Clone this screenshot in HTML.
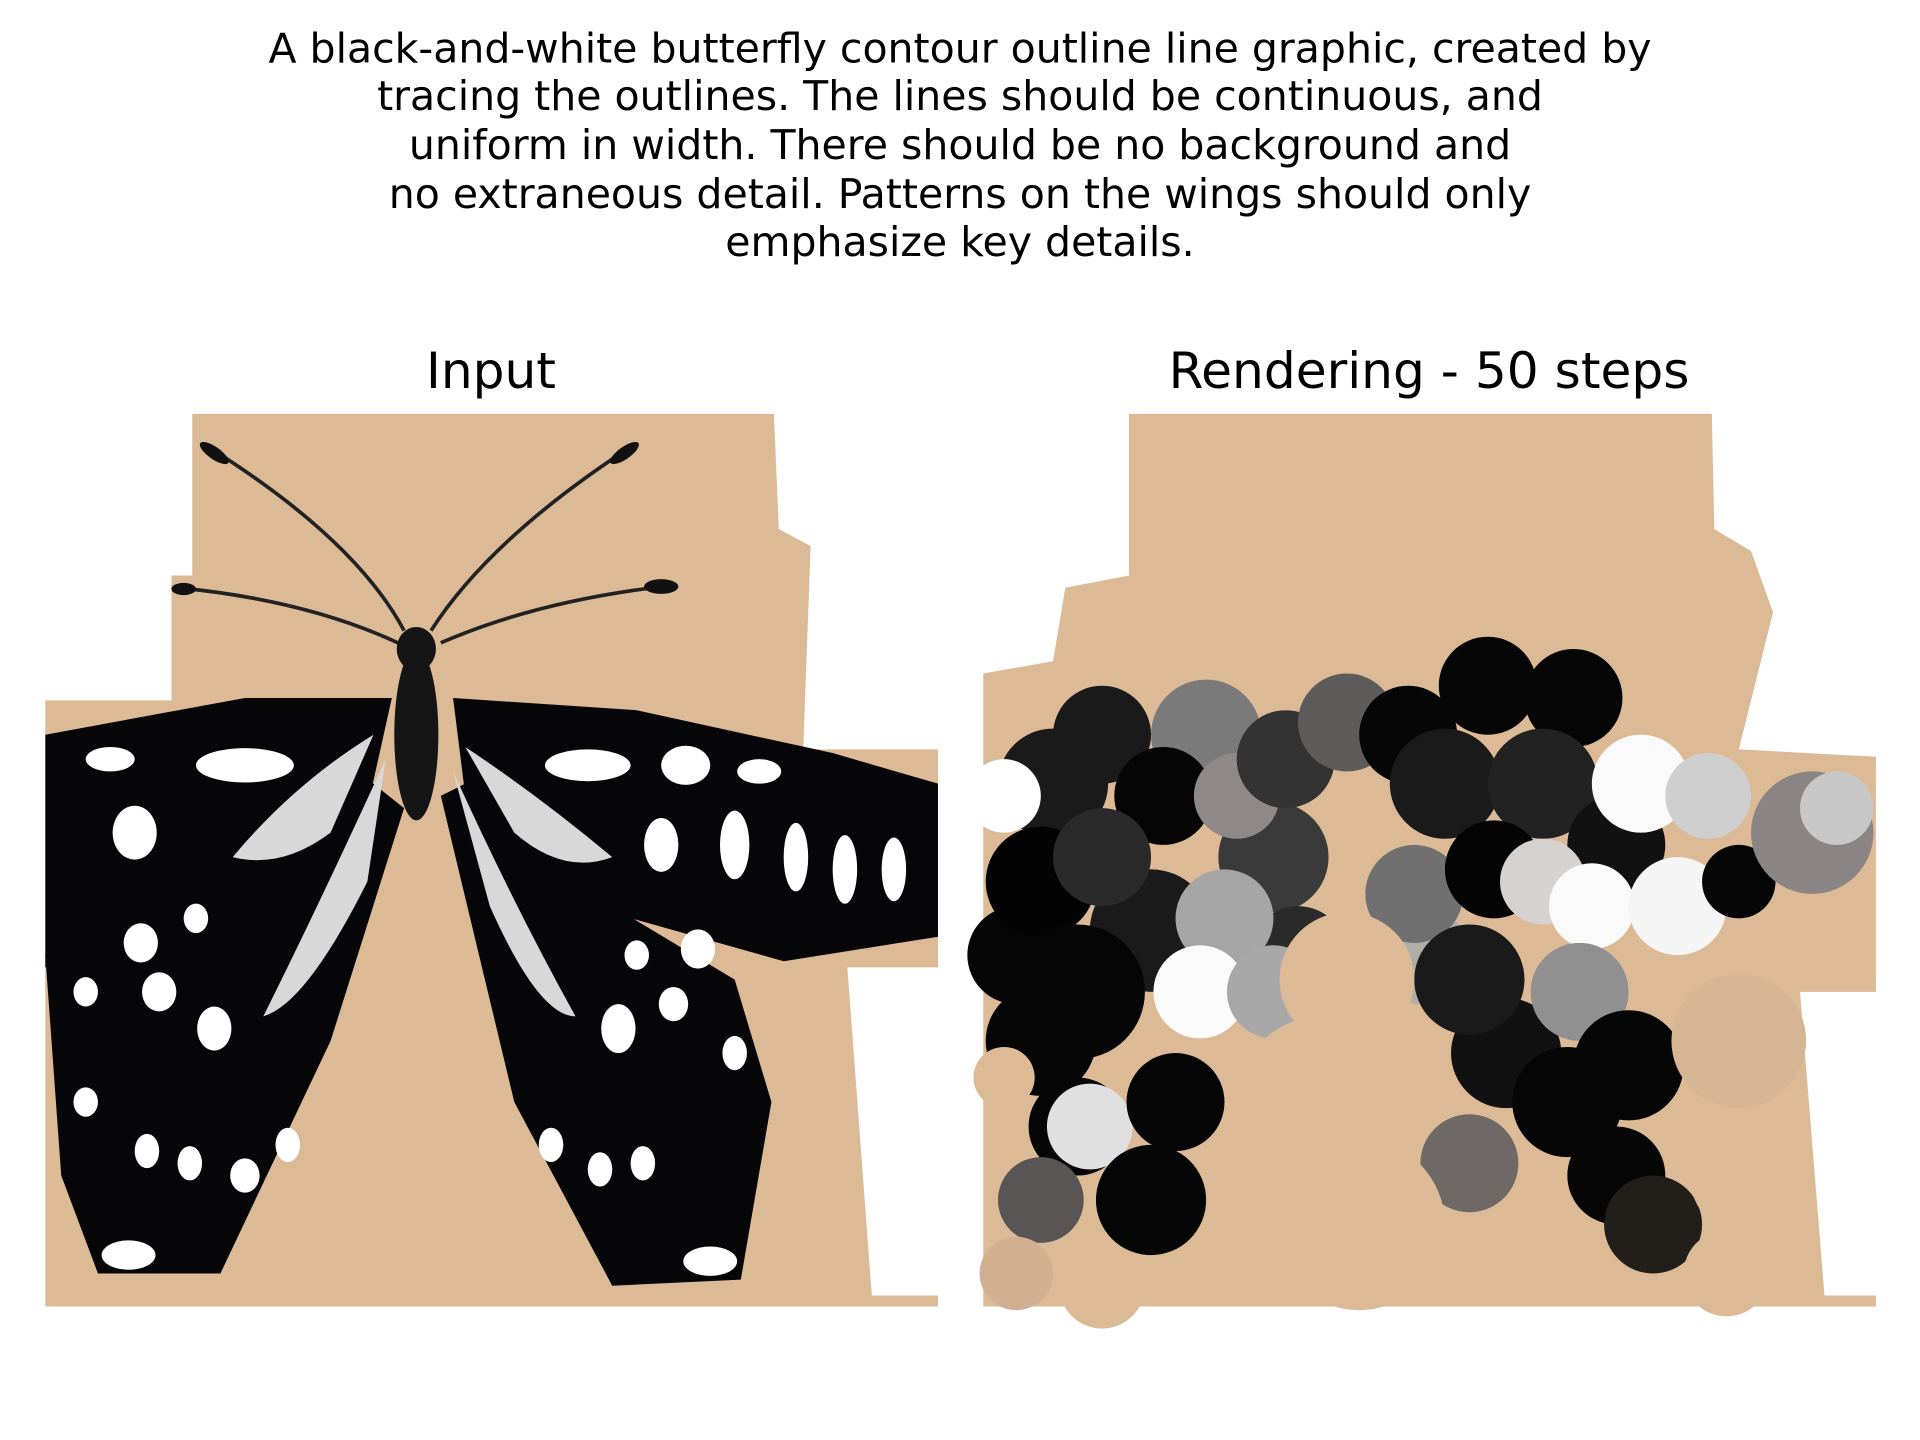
<!DOCTYPE html>
<html><head><meta charset="utf-8"><style>
html,body{margin:0;padding:0;background:#fff;width:1920px;height:1440px;overflow:hidden}
svg{display:block}
text{font-family:"DejaVu Sans","Liberation Sans",sans-serif;fill:#000}
</style></head><body>
<svg width="1920" height="1440" viewBox="0 0 1568 1176" xmlns="http://www.w3.org/2000/svg">
<g font-size="33.5" text-anchor="middle">
<text x="784" y="51">A black-and-white butterfly contour outline line graphic, created by</text>
<text x="784" y="90">tracing the outlines. The lines should be continuous, and</text>
<text x="784" y="130">uniform in width. There should be no background and</text>
<text x="784" y="170">no extraneous detail. Patterns on the wings should only</text>
<text x="784" y="209">emphasize key details.</text>
</g>
<text x="401" y="317" font-size="41" text-anchor="middle">Input</text>
<text x="1167" y="317" font-size="41" text-anchor="middle">Rendering - 50 steps</text>

<g>
<polygon fill="#dcba96" points="157,338 632,338 636,432 662,446 656,612 766,612 766,790 692,790 712,1058 766,1058 766,1067 37,1067 37,572 140,572 140,470 157,470"/>
<g stroke="#222" stroke-width="3" fill="none">
<path d="M330,515 Q290,440 170,365"/><path d="M352,515 Q400,440 515,365"/>
<path d="M325,525 Q250,490 145,480"/><path d="M360,525 Q440,490 550,478"/>
</g>
<ellipse cx="175" cy="370" rx="14" ry="5" fill="#111" transform="rotate(35 175 370)"/>
<ellipse cx="510" cy="370" rx="14" ry="5" fill="#111" transform="rotate(-35 510 370)"/>
<ellipse cx="150" cy="481" rx="10" ry="5" fill="#111"/><ellipse cx="540" cy="479" rx="14" ry="6" fill="#111"/>
<polygon fill="#060608" points="320,570 200,570 37,600 37,790 160,770 300,660"/>
<polygon fill="#060608" points="370,570 520,580 680,615 766,640 766,765 640,785 480,740 380,650"/>
<polygon fill="#060608" points="305,640 37,780 50,960 80,1040 180,1040 270,850 330,660"/>
<polygon fill="#060608" points="360,650 420,900 500,1050 605,1045 630,900 600,800 500,740 380,640"/>
<g fill="#d8d8d8">
<path d="M305,600 Q240,640 190,700 Q230,710 270,680 Z"/><path d="M315,620 Q260,740 215,830 Q250,820 300,720 Z"/>
<path d="M380,610 Q440,650 500,700 Q460,715 420,680 Z"/><path d="M370,630 Q420,740 470,830 Q440,830 400,740 Z"/>
</g>
<g fill="#fff">
<ellipse cx="200" cy="625" rx="40" ry="14"/><ellipse cx="90" cy="620" rx="20" ry="10"/><ellipse cx="110" cy="680" rx="18" ry="22"/>
<ellipse cx="115" cy="770" rx="14" ry="16"/><ellipse cx="160" cy="750" rx="10" ry="12"/><ellipse cx="130" cy="810" rx="14" ry="16"/>
<ellipse cx="175" cy="840" rx="14" ry="18"/><ellipse cx="70" cy="810" rx="10" ry="12"/><ellipse cx="70" cy="900" rx="10" ry="12"/>
<ellipse cx="120" cy="940" rx="10" ry="14"/><ellipse cx="155" cy="950" rx="10" ry="14"/><ellipse cx="235" cy="935" rx="10" ry="14"/>
<ellipse cx="200" cy="960" rx="12" ry="14"/><ellipse cx="105" cy="1025" rx="22" ry="12"/>
<ellipse cx="480" cy="625" rx="35" ry="13"/><ellipse cx="560" cy="625" rx="20" ry="16"/><ellipse cx="620" cy="630" rx="18" ry="10"/>
<ellipse cx="600" cy="690" rx="12" ry="28"/><ellipse cx="650" cy="700" rx="10" ry="28"/><ellipse cx="690" cy="710" rx="10" ry="28"/><ellipse cx="730" cy="710" rx="10" ry="26"/>
<ellipse cx="540" cy="690" rx="14" ry="22"/><ellipse cx="570" cy="775" rx="14" ry="16"/><ellipse cx="520" cy="780" rx="10" ry="12"/>
<ellipse cx="505" cy="840" rx="14" ry="20"/><ellipse cx="550" cy="820" rx="12" ry="14"/><ellipse cx="600" cy="860" rx="10" ry="14"/>
<ellipse cx="450" cy="935" rx="10" ry="14"/><ellipse cx="490" cy="955" rx="10" ry="14"/><ellipse cx="525" cy="950" rx="10" ry="14"/><ellipse cx="580" cy="1030" rx="22" ry="12"/>
</g>
<ellipse cx="340" cy="600" rx="18" ry="70" fill="#151515"/><ellipse cx="340" cy="530" rx="16" ry="18" fill="#151515"/>
</g>

<g>
<polygon fill="#dcba96" points="922,338 1398,338 1400,432 1430,450 1448,500 1420,612 1532,618 1532,810 1470,810 1490,1058 1532,1058 1532,1067 803,1067 803,550 860,540 870,480 922,470"/>
<g>
<circle cx="860" cy="640" r="45" fill="#1a1a1a"/><circle cx="830" cy="780" r="40" fill="#050505"/><circle cx="850" cy="850" r="45" fill="#050505"/>
<circle cx="940" cy="760" r="50" fill="#1a1a1a"/><circle cx="1040" cy="700" r="45" fill="#3a3a3a"/><circle cx="1060" cy="780" r="40" fill="#2a2a2a"/>
<circle cx="985" cy="600" r="45" fill="#7a7a7a"/><circle cx="900" cy="600" r="40" fill="#1a1a1a"/><circle cx="950" cy="650" r="40" fill="#050505"/>
<circle cx="1010" cy="650" r="35" fill="#8e8888"/><circle cx="850" cy="720" r="45" fill="#030303"/><circle cx="880" cy="810" r="55" fill="#050505"/>
<circle cx="820" cy="650" r="30" fill="#fff"/><circle cx="900" cy="700" r="40" fill="#2a2a2a"/><circle cx="1050" cy="620" r="40" fill="#333"/>
<circle cx="1100" cy="590" r="40" fill="#5e5b5b"/><circle cx="1150" cy="600" r="40" fill="#060606"/><circle cx="1215" cy="560" r="40" fill="#050505"/><circle cx="1285" cy="570" r="40" fill="#050505"/>
<circle cx="1180" cy="640" r="45" fill="#1a1a1a"/><circle cx="1260" cy="640" r="45" fill="#222"/><circle cx="1320" cy="690" r="40" fill="#111"/>
<circle cx="1000" cy="750" r="40" fill="#a5a5a5"/><circle cx="980" cy="810" r="38" fill="#fafafa"/><circle cx="1040" cy="810" r="38" fill="#a8a8a8"/>
<circle cx="1160" cy="780" r="40" fill="#b0aca8"/><circle cx="1230" cy="860" r="45" fill="#111"/><circle cx="1280" cy="900" r="45" fill="#050505"/>
<circle cx="1155" cy="730" r="40" fill="#707070"/><circle cx="1220" cy="710" r="40" fill="#040404"/><circle cx="1200" cy="800" r="45" fill="#1a1a1a"/>
<circle cx="1260" cy="720" r="35" fill="#d6d2d0"/><circle cx="1340" cy="640" r="40" fill="#fafafa"/><circle cx="1395" cy="650" r="35" fill="#cfcfcf"/>
<circle cx="1300" cy="740" r="35" fill="#fafafa"/><circle cx="1370" cy="740" r="40" fill="#f5f5f5"/><circle cx="1420" cy="720" r="30" fill="#050505"/>
<circle cx="1480" cy="680" r="50" fill="#8a8484"/><circle cx="1500" cy="660" r="30" fill="#c8c8c8"/>
<circle cx="1290" cy="810" r="40" fill="#909090"/><circle cx="1330" cy="870" r="45" fill="#050505"/><circle cx="1200" cy="950" r="40" fill="#6e6866"/>
<circle cx="1320" cy="960" r="40" fill="#050505"/><circle cx="1350" cy="1000" r="40" fill="#221e1a"/>
<circle cx="880" cy="920" r="40" fill="#050505"/><circle cx="890" cy="920" r="35" fill="#e0e0e0"/><circle cx="940" cy="980" r="45" fill="#050505"/><circle cx="850" cy="980" r="35" fill="#5a5555"/>
<circle cx="960" cy="900" r="40" fill="#050505"/>
<circle cx="1100" cy="800" r="55" fill="#dcba96"/><circle cx="1080" cy="900" r="70" fill="#dcba96"/><circle cx="1110" cy="1000" r="70" fill="#dcba96"/>
<circle cx="1420" cy="850" r="55" fill="#d6b592"/><circle cx="1430" cy="960" r="50" fill="#dcba96"/><circle cx="1410" cy="1040" r="35" fill="#dcba96"/>
<circle cx="830" cy="1040" r="30" fill="#d0b090"/><circle cx="900" cy="1050" r="35" fill="#dcba96"/><circle cx="820" cy="880" r="25" fill="#dcba96"/>
</g>
</g>
</svg>
</body></html>
